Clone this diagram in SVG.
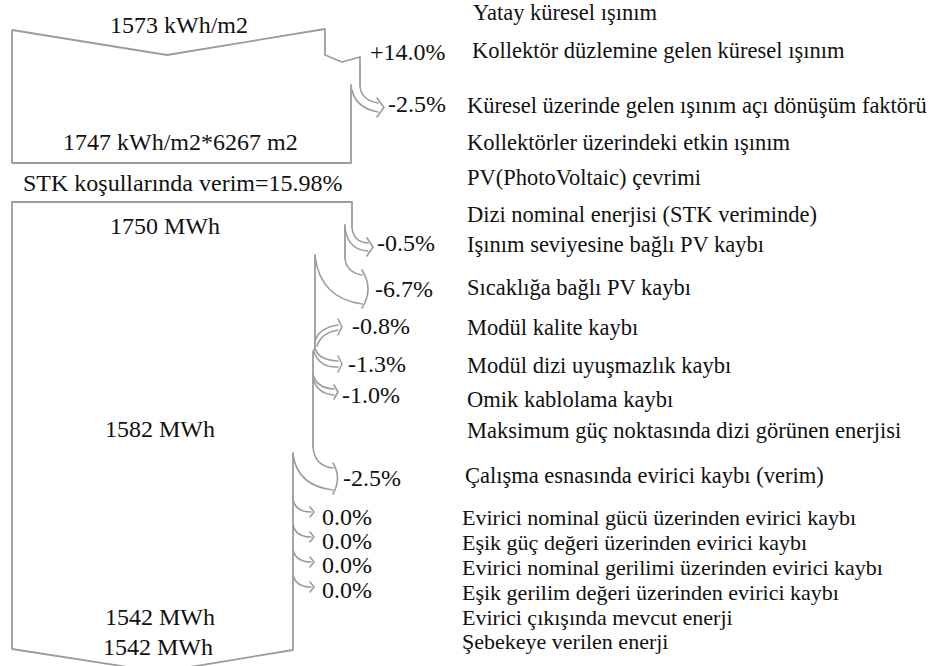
<svg xmlns="http://www.w3.org/2000/svg" width="938" height="666" viewBox="0 0 938 666">
<style>
 .f{fill:none;stroke:#9c9c9c;stroke-width:1.8;stroke-linejoin:round;stroke-linecap:round}
 .a{fill:none;stroke:#9c9c9c;stroke-width:1.6;stroke-linecap:round;stroke-linejoin:round}
 text{font-family:"Liberation Serif","Times New Roman",serif;fill:#111}
 .v{font-size:24px}
 .d{font-size:22.5px}
 .e{font-size:22px}
</style>
<rect width="938" height="666" fill="#fff"/>
<g id="flow">
 <path class="f" d="M360,86 L360,57 L342,62 L325,55 L325,29 L167,55 L12,30 L12,163 L351,163 L351,85"/>
 <path class="f" d="M352,227 L352,202 L12,202 L12,649 L160,672 L293,650 L293,453"/>
 <path class="f" d="M345,225 L345,258"/>
 <path class="f" d="M315,255 L315,348 L313,352 L313,446"/>
</g>
<g id="connectors">
 <g id="arr-iam">
  <path class="a" d="M360,86 Q361,100 378,103"/>
  <path class="a" d="M352,90 Q356,108 378,112"/>
  <path class="a" d="M377,98 L384,107.5 L377,117"/>
 </g>
 <g id="arr-irr">
  <path class="a" d="M352,227 Q353,242 368,243"/>
  <path class="a" d="M345,228 Q348,250 368,251"/>
  <path class="a" d="M367,238 L373,247 L367,256"/>
 </g>
 <g id="arr-temp">
  <path class="a" d="M345,258 Q346,272 362,275"/>
  <path class="a" d="M315,256 Q320,298 362,304"/>
  <path class="a" d="M362,270 Q374,289 362,308"/>
 </g>
 <g id="arr-quality">
  <path class="a" d="M315,342 Q318,328 338,325"/>
  <path class="a" d="M317,346 Q321,333 338,330"/>
  <path class="a" d="M338,319 L342,327 L338,335"/>
 </g>
 <g id="arr-mismatch">
  <path class="a" d="M315,348 Q318,360 338,361"/>
  <path class="a" d="M314,352 Q320,368 338,367"/>
  <path class="a" d="M338,356 L342,364 L338,372"/>
 </g>
 <g id="arr-ohmic">
  <path class="a" d="M313,374 Q316,388 334,389"/>
  <path class="a" d="M313,379 Q318,394 334,395"/>
  <path class="a" d="M334,385 L338,392 L334,399"/>
 </g>
 <g id="arr-inv">
  <path class="a" d="M313,446 Q314,466 333,468"/>
  <path class="a" d="M293,455 Q298,486 333,490"/>
  <path class="a" d="M333,463 Q342,478 333,494"/>
 </g>
 <g id="arr-z1"><path class="a" d="M293,500 Q296,512 311,512"/><path class="a" d="M310,507 L314,512 L310,517"/></g>
 <g id="arr-z2"><path class="a" d="M293,525 Q296,537 311,537"/><path class="a" d="M310,532 L314,537 L310,542"/></g>
 <g id="arr-z3"><path class="a" d="M293,550 Q296,562 311,562"/><path class="a" d="M310,557 L314,562 L310,567"/></g>
 <g id="arr-z4"><path class="a" d="M293,575 Q296,587 311,587"/><path class="a" d="M310,582 L314,587 L310,592"/></g>
</g>
<g id="values">
 <text class="v" x="110" y="33">1573 kWh/m2</text>
 <text class="v" x="63" y="150">1747 kWh/m2*6267 m2</text>
 <text class="v" x="23" y="191">STK koşullarında verim=15.98%</text>
 <text class="v" x="110" y="234">1750 MWh</text>
 <text class="v" x="105" y="437">1582 MWh</text>
 <text class="v" x="105" y="625">1542 MWh</text>
 <text class="v" x="103" y="655">1542 MWh</text>
</g>
<g id="percents">
 <text class="v" x="370" y="60">+14.0%</text>
 <text class="v" x="388" y="112">-2.5%</text>
 <text class="v" x="377" y="251">-0.5%</text>
 <text class="v" x="375" y="297">-6.7%</text>
 <text class="v" x="352" y="334">-0.8%</text>
 <text class="v" x="348" y="372">-1.3%</text>
 <text class="v" x="342" y="403">-1.0%</text>
 <text class="v" x="343" y="486">-2.5%</text>
 <text class="v" x="322" y="525">0.0%</text>
 <text class="v" x="322" y="549">0.0%</text>
 <text class="v" x="322" y="573">0.0%</text>
 <text class="v" x="322" y="598">0.0%</text>
</g>
<g id="labels">
 <text class="d" x="473" y="20">Yatay küresel ışınım</text>
 <text class="d" x="472" y="58">Kollektör düzlemine gelen küresel ışınım</text>
 <text class="d" x="467" y="113">Küresel üzerinde gelen ışınım açı dönüşüm faktörü</text>
 <text class="d" x="467" y="150">Kollektörler üzerindeki etkin ışınım</text>
 <text class="d" x="467" y="185">PV(PhotoVoltaic) çevrimi</text>
 <text class="d" x="467" y="222">Dizi nominal enerjisi (STK veriminde)</text>
 <text class="d" x="467" y="252">Işınım seviyesine bağlı PV kaybı</text>
 <text class="d" x="467" y="295">Sıcaklığa bağlı PV kaybı</text>
 <text class="d" x="467" y="335">Modül kalite kaybı</text>
 <text class="d" x="467" y="373">Modül dizi uyuşmazlık kaybı</text>
 <text class="d" x="467" y="407">Omik kablolama kaybı</text>
 <text class="d" x="467" y="438">Maksimum güç noktasında dizi görünen enerjisi</text>
 <text class="d" x="465" y="483">Çalışma esnasında evirici kaybı (verim)</text>
 <text class="e" x="462" y="525">Evirici nominal gücü üzerinden evirici kaybı</text>
 <text class="e" x="462" y="550">Eşik güç değeri üzerinden evirici kaybı</text>
 <text class="e" x="462" y="575">Evirici nominal gerilimi üzerinden evirici kaybı</text>
 <text class="e" x="462" y="600">Eşik gerilim değeri üzerinden evirici kaybı</text>
 <text class="e" x="462" y="625">Evirici çıkışında mevcut enerji</text>
 <text class="e" x="462" y="649">Şebekeye verilen enerji</text>
</g>
</svg>
